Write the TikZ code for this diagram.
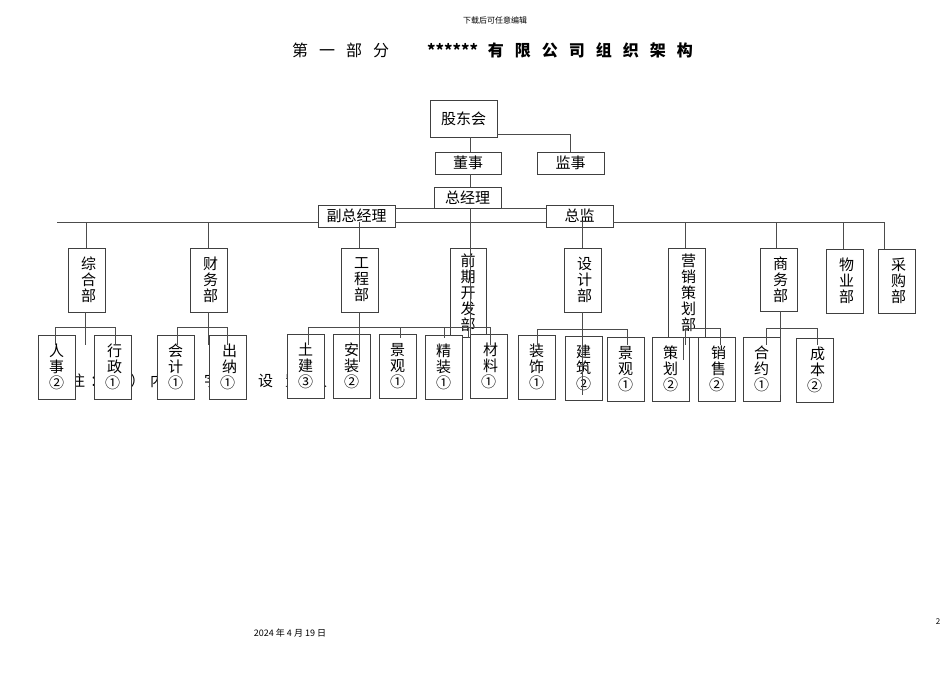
\documentclass[tikz,border=0pt]{standalone}
\usepackage{fontspec}
\setmainfont{Noto Sans CJK SC}
\newcommand{\spc}[1]{\makebox[27pt][l]{#1}}
\begin{document}
\begin{tikzpicture}[x=1pt,y=-1pt,
 bx/.style={draw=black!75,line width=0.9pt,fill=white,inner sep=0pt,font=\fontsize{15}{16}\selectfont,align=center},
 ln/.style={draw=black!70,line width=0.9pt},
 v/.style={bx,minimum width=37pt,minimum height=64pt}]
\useasboundingbox (0,0) rectangle (950,672);
\node (hd) at (495,20) {\fontsize{8}{9}\selectfont 下载后可任意编辑};
\node[anchor=west,inner sep=0pt] (tt) at (292,50) {\fontsize{16}{18}\selectfont \spc{第}\spc{一}\spc{部}\spc{分}\hspace{27pt}\textbf{******}\hspace{10pt}\bfseries\spc{有}\spc{限}\spc{公}\spc{司}\spc{组}\spc{织}\spc{架}构};
\node (ft) at (290,633) {\fontsize{9}{10}\selectfont 2024 年 4 月 19 日};
\node (pg) at (938,622) {\fontsize{8}{9}\selectfont 2};
\node[anchor=west,inner sep=0pt] (note) at (70,381) {\fontsize{15}{16}\selectfont \makebox[20pt][l]{注}\makebox[20pt][l]{：}\makebox[20pt][l]{（}\makebox[20pt][l]{）}\spc{内}\spc{数}\spc{字}\spc{为}\spc{设}\spc{置}\spc{人}\spc{数}};
% top
\node[bx,minimum width=67pt,minimum height=37pt] (gd) at (463.5,118.5) {股东会};
\node[bx,minimum width=66pt,minimum height=22pt] (ds) at (468,163) {董事};
\node[bx,minimum width=67pt,minimum height=22pt] (js) at (570.5,163) {监事};
\node[bx,minimum width=67pt,minimum height=21pt] (zj) at (467.5,197.5) {总经理};
\node[bx,minimum width=77pt,minimum height=22pt] (fz) at (356.5,216) {副总经理};
\node[bx,minimum width=67pt,minimum height=22pt] (zjn) at (579.5,216) {总监};
% departments
\node[v] (d1) at (86.5,280) {\hspace*{4pt}综\\\hspace*{4pt}合\\\hspace*{4pt}部};
\node[v] (d2) at (208.5,280) {\hspace*{4pt}财\\\hspace*{4pt}务\\\hspace*{4pt}部};
\node[v] (d3) at (359.5,280) {\hspace*{4pt}工\\\hspace*{4pt}程\\\hspace*{4pt}部};
\node[bx,minimum width=36pt,minimum height=89pt,anchor=north] (d4) at (468,248) {前\\期\\开\\发\\部};
\node[v] (d5) at (582.5,280) {\hspace*{4pt}设\\\hspace*{4pt}计\\\hspace*{4pt}部};
\node[bx,minimum width=37pt,minimum height=89pt,anchor=north] (d6) at (686.5,248) {\hspace*{4pt}营\\\hspace*{4pt}销\\\hspace*{4pt}策\\\hspace*{4pt}划\\\hspace*{4pt}部};
\node[v,minimum height=63pt] (d7) at (778.5,279.5) {\hspace*{4pt}商\\\hspace*{4pt}务\\\hspace*{4pt}部};
\node[v] (d8) at (844.5,281) {\hspace*{4pt}物\\\hspace*{4pt}业\\\hspace*{4pt}部};
\node[v] (d9) at (896.5,281) {\hspace*{4pt}采\\\hspace*{4pt}购\\\hspace*{4pt}部};
% sub units
\node[v] (s1) at (56.5,367) {人\\事\\②};
\node[v] (s2) at (112.5,367) {\hspace*{4pt}行\\\hspace*{4pt}政\\①};
\node[v] (s3) at (175.5,367) {会\\计\\①};
\node[v] (s4) at (227.5,367) {\hspace*{4pt}出\\\hspace*{4pt}纳\\①};
\node[v] (s5) at (305.5,366) {土\\建\\③};
\node[v] (s6) at (351.5,366) {安\\装\\②};
\node[v] (s7) at (397.5,366) {景\\观\\①};
\node[v] (s8) at (443.5,367) {精\\装\\①};
\node[v] (s9) at (488.5,366) {\hspace*{4pt}材\\\hspace*{4pt}料\\①};
\node[v] (s10) at (536.5,367) {装\\饰\\①};
\node[v] (s11) at (583.5,368) {建\\筑\\②};
\node[v] (s12) at (625.5,369) {景\\观\\①};
\node[v] (s13) at (670.5,369) {策\\划\\②};
\node[v] (s14) at (716.5,369) {\hspace*{4pt}销\\\hspace*{4pt}售\\②};
\node[v] (s15) at (761.5,369) {合\\约\\①};
\node[v] (s16) at (814.5,370) {\hspace*{6pt}成\\\hspace*{6pt}本\\②};
% connectors top
\coordinate (c0) at (572,134);
\coordinate (cx) at (470,0);
\draw[ln] (gd.south-|cx) -- (ds.north-|cx);
\draw[ln] (gd.east|-c0) -| (js.north);
\draw[ln] (ds.south-|cx) -- (zj.north-|cx);
\draw[ln] (fz.east|-0,208) -- (zj.west|-0,208);
\draw[ln] (zj.east|-0,208) -- (zjn.west|-0,208);
\coordinate (bl) at (57,222); \coordinate (br) at (885,222);
\draw[ln] (bl) -- (fz.west|-bl); \draw[ln] (fz.east|-bl) -- (zjn.west|-bl); \draw[ln] (zjn.east|-bl) -- (br);
\coordinate (z4) at (470,335);
\draw[ln] (zj.south-|z4) -- (z4);
\foreach \d/\x in {d1/86,d2/208,d3/359,d5/582,d6/685,d7/776,d8/843,d9/884}
  \draw[ln] (\x,222) -- (\d.north-|\x,0);
% sub connectors
\foreach \l/\r/\y/\xv/\ye/\d in {55/115/327/85/345/d1,177/227/327/208/345/d2,308/490/327/359/362/d3,537/627/329/582/395/d5,685/720/328/683/360/d6,766/817/328/780/395/d7}{
  \draw[ln] (\d.south-|\xv,0) -- (\xv,\ye);
  \draw[ln] (\l,\y) -- (\r,\y);
  \draw[ln] (\l,\y) -- (\l,345); \draw[ln] (\r,\y) -- (\r,345);}
\foreach \x in {400,444} \draw[ln] (\x,327) -- (\x,338);
\draw[ln] (d4.south-|468,0) -- (468,327);
\end{tikzpicture}
\end{document}
